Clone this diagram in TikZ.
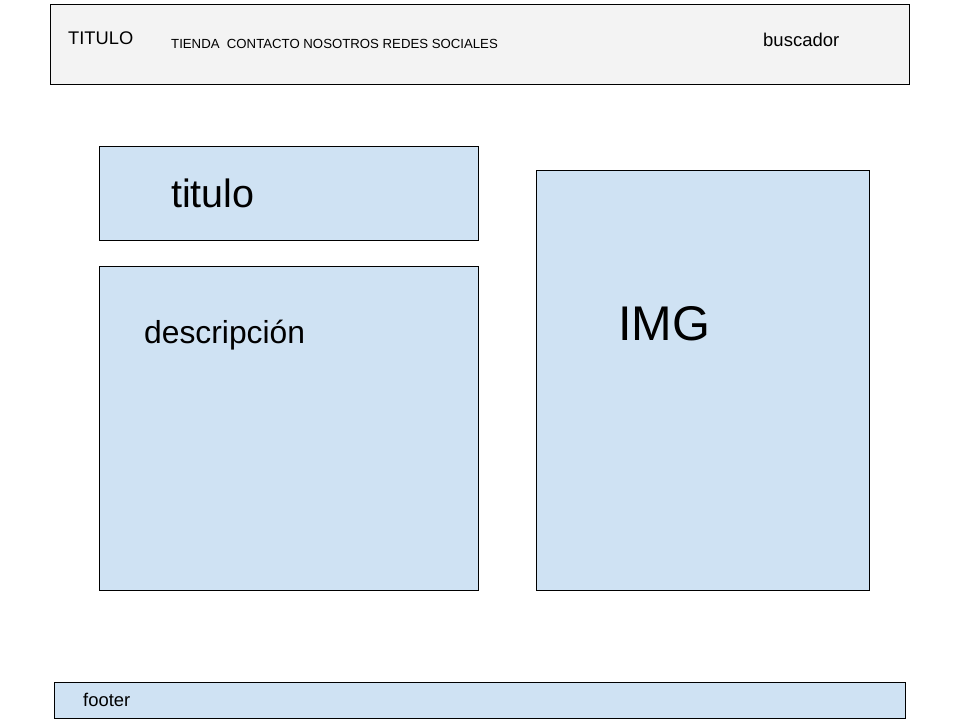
\documentclass[tikz,border=0pt]{standalone}
\usepackage{fontspec}
\setmainfont{Liberation Sans}
\definecolor{hdrfill}{HTML}{F3F3F3}
\definecolor{boxfill}{HTML}{CFE2F3}
\begin{document}
\begin{tikzpicture}[x=1pt,y=-1pt,
  hdr/.style={draw=black,fill=hdrfill,line width=0.8pt},
  blu/.style={draw=black,fill=boxfill,line width=0.8pt},
  lbl/.style={anchor=base west,inner sep=0pt,text=black}]
\useasboundingbox (0,0) rectangle (960,720);
\fill[white] (0,0) rectangle (960,720);
\draw[hdr] (50.5,4.5) rectangle (909,84);
\draw[blu] (99.5,146.5) rectangle (478,240);
\draw[blu] (99.5,266.5) rectangle (478,590);
\draw[blu] (536.5,170.5) rectangle (869,590);
\draw[blu] (54.5,682.5) rectangle (905,718);
\node[lbl,font=\fontsize{18.3}{20}\selectfont] (t1) at (68,44) {TITULO};
\node[lbl,font=\fontsize{13.2}{15}\selectfont] (menu) at (171,48) {TIENDA\ \ CONTACTO NOSOTROS REDES SOCIALES};
\node[lbl,font=\fontsize{18.5}{20}\selectfont] (busc) at (763,46) {buscador};
\node[lbl,font=\fontsize{39.5}{42}\selectfont] (tit) at (171,207) {titulo};
\node[lbl,font=\fontsize{31.8}{34}\selectfont] (desc) at (144,343) {descripción};
\node[lbl,font=\fontsize{48.7}{50}\selectfont] (img) at (618,340) {IMG};
\node[lbl,font=\fontsize{18.4}{20}\selectfont] (foot) at (83,706) {footer};
\end{tikzpicture}
\end{document}
